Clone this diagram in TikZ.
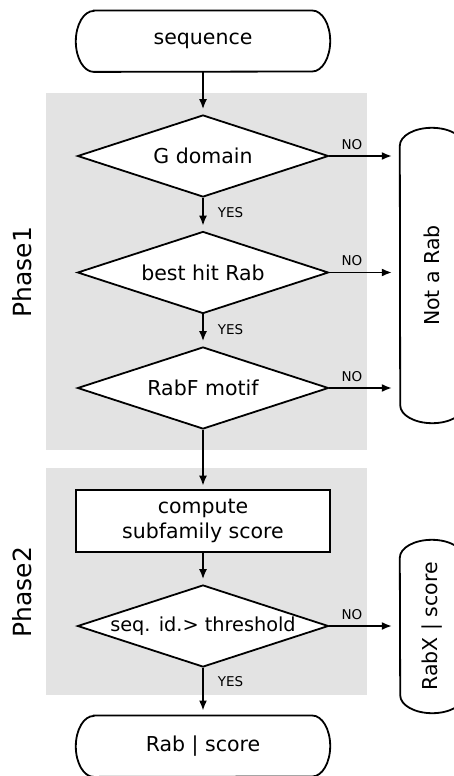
\documentclass[tikz,border=0pt]{standalone}
\usepackage{fontspec}
\usepackage{graphicx}
\setmainfont{DejaVu Sans}
\usetikzlibrary{shapes.geometric,arrows.meta}
\definecolor{phasebg}{RGB}{227,227,227}
\newcommand{\mainfont}{\fontsize{20.5}{24.5}\selectfont}
\tikzset{
  outline/.style={draw=black,line width=1.8pt},
  decision/.style={diamond,outline,fill=white,aspect=3.06,inner sep=0pt,
    minimum width=251pt,minimum height=82pt,font=\mainfont},
  process/.style={rectangle,outline,fill=white,inner sep=0pt,
    minimum width=254pt,minimum height=62pt,align=center,font=\mainfont},
  terminal/.style={inner sep=0pt,minimum width=254pt,minimum height=61pt,font=\mainfont},
  vterminal/.style={inner sep=0pt,minimum width=64pt,font=\mainfont},
  flow/.style={-{Latex[length=10pt,width=8pt]},line width=1.6pt,shorten >=5pt},
  answer/.style={font=\fontsize{13.5}{16}\selectfont,inner sep=3pt},
  phase/.style={font=\fontsize{25}{30}\selectfont,rotate=90,inner sep=0pt}
}
% outline of a horizontal terminal (elliptic ends)
\newcommand{\termH}[1]{%
  \draw[outline] ([xshift=18pt]#1.north west) -- ([xshift=-18pt]#1.north east)
    arc[start angle=90,end angle=-90,x radius=18pt,y radius=30.5pt]
    -- ([xshift=18pt]#1.south west)
    arc[start angle=270,end angle=90,x radius=18pt,y radius=30.5pt] -- cycle;}
% outline of a vertical terminal (elliptic ends)
\newcommand{\termV}[1]{%
  \draw[outline] ([yshift=-18pt]#1.north west)
    arc[start angle=180,end angle=0,x radius=32pt,y radius=18pt]
    -- ([yshift=18pt]#1.south east)
    arc[start angle=0,end angle=-180,x radius=32pt,y radius=18pt] -- cycle;}
\begin{document}
\begin{tikzpicture}[x=1pt,y=1pt]
\useasboundingbox (0,0) rectangle (454,-776);

% phase panels
\fill[phasebg] (46,-93) rectangle (367,-450);
\fill[phasebg] (46,-468) rectangle (367,-695);
\node[phase] (ph1) at (22,-272) {Phase1};
\node[phase] (ph2) at (22,-592) {Phase2};

% flow elements
\node[terminal] (seq) at (203,-41.2) {sequence};
\node[decision] (gdom) at (203,-156) {G domain};
\node[decision] (hit) at (203,-272.5) {best hit Rab};
\node[decision] (motif) at (203,-388) {RabF motif};
\node[process] (score) at (203,-521) {compute\\subfamily score};
\node[decision,font=\fontsize{19.3}{23}\selectfont] (ident) at (203,-626) {seq. id.> threshold};
\node[terminal] (rab) at (203,-746.2) {Rab | score};
\node[vterminal,minimum height=295pt] (notrab) at (432,-275.5) {\rotatebox{90}{Not a Rab}};
\node[vterminal,minimum height=173pt] (rabx) at (432,-626.5) {\rotatebox{90}{RabX | score}};

\termH{seq}
\termH{rab}
\termV{notrab}
\termV{rabx}

% vertical flow
\draw[flow] (seq) -- (gdom);
\draw[flow] (gdom) -- node[answer,pos=0.46,right=11pt] {YES} (hit);
\draw[flow] (hit) -- node[answer,pos=0.47,right=11pt] {YES} (motif);
\draw[flow,shorten >=3.5pt] (motif) -- (score);
\draw[flow] (score) -- (ident);
\draw[flow] (ident) -- node[answer,pos=0.29,right=11pt] {YES} (rab);

% rejections
\draw[flow,shorten >=8pt] (gdom.east) -- node[answer,pos=0.32,above=3pt] {NO} (gdom.east -| notrab.west);
\draw[flow,shorten >=8pt] (hit.east) -- node[answer,pos=0.32,above=3pt] {NO} (hit.east -| notrab.west);
\draw[flow,shorten >=8pt] (motif.east) -- node[answer,pos=0.32,above=3pt] {NO} (motif.east -| notrab.west);
\draw[flow,shorten >=8pt] (ident.east) -- node[answer,pos=0.32,above=3pt] {NO} (ident.east -| rabx.west);
\end{tikzpicture}
\end{document}
